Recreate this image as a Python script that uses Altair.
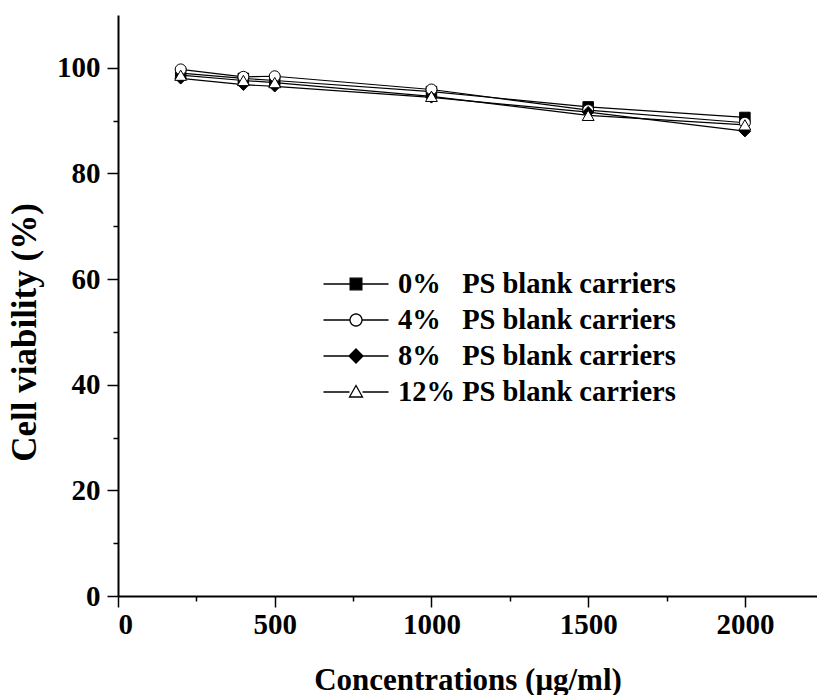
import math
import altair as alt
import pandas as pd

series = [
    "0%\u00a0\u00a0\u00a0PS blank carriers",
    "4%\u00a0\u00a0\u00a0PS blank carriers",
    "8%\u00a0\u00a0\u00a0PS blank carriers",
    "12% PS blank carriers",
]
conc = [200, 400, 500, 1000, 1500, 2000]
v0 = [99.0, 98.0, 97.6, 95.5, 92.6, 90.6]
v4 = [99.7, 98.3, 98.4, 95.9, 92.0, 89.6]
v8 = [98.0, 96.8, 96.5, 94.4, 91.6, 88.0]
v12 = [98.6, 97.6, 97.2, 94.6, 91.0, 89.2]

rows = []
for name, vals in zip(series, [v0, v4, v8, v12]):
    for c, v in zip(conc, vals):
        rows.append({"conc": c, "viab": v, "series": name})
df = pd.DataFrame(rows)

FONT = "Liberation Serif"

xenc = alt.X(
    "conc:Q",
    scale=alt.Scale(domain=[0, 2230], nice=False),
    axis=alt.Axis(
        title="Concentrations (\u03bcg/ml)",
        values=list(range(0, 2001, 250)),
        labelExpr="datum.value % 500 === 0 ? datum.label : ''",
        tickSize={"condition": {"test": "datum.value % 500 === 0", "value": 11}, "value": 5},
        format="d",
        grid=False,
        labelPadding=3,
        titleBaseline="alphabetic",
        titleY=93,
        titleFontSize=31,
    ),
)
yenc = alt.Y(
    "viab:Q",
    scale=alt.Scale(domain=[0, 110], nice=False),
    axis=alt.Axis(
        title="Cell viability (%)",
        values=list(range(0, 101, 10)),
        labelExpr="datum.value % 20 === 0 ? datum.label : ''",
        tickSize={"condition": {"test": "datum.value % 20 === 0", "value": 11}, "value": 5},
        grid=False,
        labelPadding=7,
        titleX=-76,
        titleY=317,
        titleFontSize=35,
    ),
)

base = alt.Chart(df)

lines = base.mark_line(color="black", strokeWidth=1.2).encode(
    x=xenc, y=yenc, detail="series:N"
)

points = base.mark_point(filled=True, stroke="black", strokeWidth=1, opacity=1).encode(
    x=xenc,
    y=yenc,
    shape=alt.Shape(
        "series:N",
        scale=alt.Scale(domain=series, range=["square", "circle", "diamond", "triangle-up"]),
        legend=None,
    ),
    fill=alt.Fill(
        "series:N",
        scale=alt.Scale(domain=series, range=["black", "white", "black", "white"]),
        legend=None,
    ),
    size=alt.Size(
        "series:N",
        scale=alt.Scale(domain=series, range=[110, 140, 140, 160]),
        legend=None,
    ),
)

# legend glyphs (line stub + marker), defined in pixels and normalised
SYM = 34.0           # nominal symbol box in px
k = SYM / 2.0
L = 32.5 / k          # half length of line stub
def p(v):
    return f"{v / k:.4f}"

sq = 5.85
cr = 6.0
dm = 7.0
circ = " ".join(
    ("M" if i == 0 else "L")
    + f"{p(cr * math.cos(2 * math.pi * i / 24))},{p(cr * math.sin(2 * math.pi * i / 24))}"
    for i in range(24)
) + "Z"
stub = lambda h: f"M{-L:.4f},0H{p(-h)} M{p(h)},0H{L:.4f} "
paths = [
    stub(sq) + f"M{p(-sq)},{p(-sq)}H{p(sq)}V{p(sq)}H{p(-sq)}Z",
    stub(cr) + circ,
    stub(dm) + f"M0,{p(-dm)}L{p(dm)},0L0,{p(dm)}L{p(-dm)},0Z",
    stub(6.5) + f"M0,{p(-6.5)}L{p(6.5)},{p(5)}L{p(-6.5)},{p(5)}Z",
]

leg = alt.Legend(
    title=None,
    orient="none",
    legendX=220,
    legendY=251,
    symbolSize=SYM * SYM,
    symbolStrokeWidth=1.3,
    symbolStrokeColor="black",
    symbolOpacity=1,
    labelFont=FONT,
    labelFontSize=28.5,
    labelFontWeight="bold",
    labelColor="black",
    labelOffset=24,
    rowPadding=3,
    labelLimit=500,
)

legend_layer = base.mark_point(
    filled=False, color="black", strokeWidth=1.3, opacity=0
).encode(
    x=xenc,
    y=yenc,
    shape=alt.Shape("series:N", scale=alt.Scale(domain=series, range=paths), legend=leg),
    fill=alt.Fill(
        "series:N",
        scale=alt.Scale(domain=series, range=["black", "white", "black", "white"]),
        legend=leg,
    ),
    stroke=alt.Stroke(
        "series:N",
        scale=alt.Scale(domain=series, range=["black", "black", "black", "black"]),
        legend=leg,
    ),
)

chart = (
    alt.layer(lines, points, legend_layer)
    .resolve_scale(shape="independent", fill="independent", size="independent", stroke="independent")
    .properties(
        width=699,
        height=581,
        autosize=alt.AutoSizeParams(type="none"),
        padding={"left": 118, "top": 15, "right": 0, "bottom": 99},
    )
    .configure_view(stroke=None)
    .configure_axis(
        domainColor="black",
        domainWidth=2,
        tickColor="black",
        tickWidth=1.5,
        labelFont=FONT,
        labelFontSize=29,
        labelFontWeight="bold",
        labelColor="black",
        titleFont=FONT,
        titleFontWeight="bold",
        titleColor="black",
    )
)

chart.save("out.html", embed_options={"renderer": "svg", "actions": False})
